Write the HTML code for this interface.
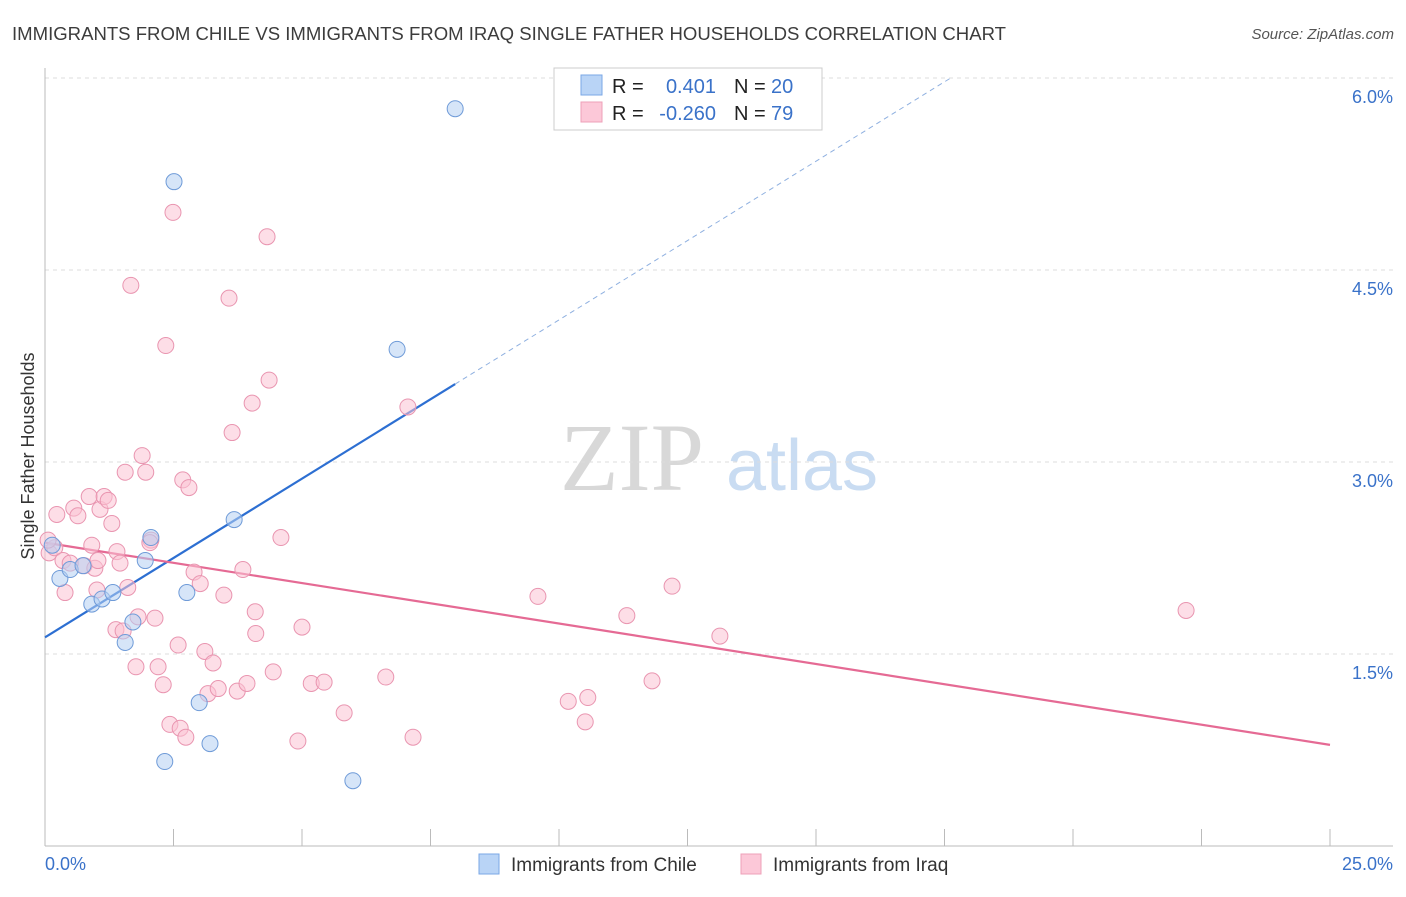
<!DOCTYPE html>
<html><head><meta charset="utf-8"><style>
body{margin:0;background:#fff;width:1406px;height:892px;overflow:hidden;font-family:"Liberation Sans",sans-serif}
</style></head><body>
<svg id="chart" width="1406" height="892" xmlns="http://www.w3.org/2000/svg" style="font-family:'Liberation Sans',sans-serif">
<text x="12" y="40" font-size="18" fill="#3c3c3c" textLength="994" lengthAdjust="spacingAndGlyphs">IMMIGRANTS FROM CHILE VS IMMIGRANTS FROM IRAQ SINGLE FATHER HOUSEHOLDS CORRELATION CHART</text>
<text x="1394" y="39" font-size="15" fill="#555" font-style="italic" text-anchor="end">Source: ZipAtlas.com</text>
<g>
<text x="632" y="490" font-size="96" fill="#d8d8d8" font-family="Liberation Serif,serif" text-anchor="middle">ZIP</text>
<text x="802" y="490" font-size="72" fill="#c9dcf2" text-anchor="middle">atlas</text>
</g>
<g id="grid"></g><g id="axes"></g><g id="lines"></g><g id="pts"></g>
<text transform="translate(34,456) rotate(-90)" font-size="18" fill="#333" text-anchor="middle">Single Father Households</text>
<g>
<rect x="554" y="68" width="268" height="62" fill="#fff" stroke="#ccc"/>
<rect x="581" y="75" width="21" height="20" fill="#b9d4f6" stroke="#7aa7e6"/>
<rect x="581" y="102" width="21" height="20" fill="#fcc8d8" stroke="#eea0b8"/>
<text x="612" y="93" font-size="20" fill="#222">R = </text><text x="716" y="93" font-size="20" fill="#3a72c9" text-anchor="end">0.401</text>
<text x="734" y="93" font-size="20" fill="#222">N = </text><text x="771" y="93" font-size="20" fill="#3a72c9">20</text>
<text x="612" y="120" font-size="20" fill="#222">R = </text><text x="716" y="120" font-size="20" fill="#3a72c9" text-anchor="end">-0.260</text>
<text x="734" y="120" font-size="20" fill="#222">N = </text><text x="771" y="120" font-size="20" fill="#3a72c9">79</text>
</g>
<g>
<rect x="479" y="854" width="20" height="20" fill="#b9d4f6" stroke="#7aa7e6"/>
<text x="511" y="871" font-size="19" fill="#333">Immigrants from Chile</text>
<rect x="741" y="854" width="20" height="20" fill="#fcc8d8" stroke="#eea0b8"/>
<text x="773" y="871" font-size="19" fill="#333">Immigrants from Iraq</text>
</g>
</svg>
<script>
const yTicks=[1.5,3.0,4.5,6.0];
const xTickLabels=["0.0%","25.0%"];
const chileX=[0.14,0.29,0.49,0.74,0.91,1.11,1.32,1.56,1.71,1.95,2.06,2.33,2.51,2.76,3.00,3.21,3.68,5.99,6.85,7.98];
const chileY=[2.35,2.09,2.16,2.19,1.89,1.93,1.98,1.59,1.75,2.23,2.41,0.66,5.19,1.98,1.12,0.80,2.55,0.51,3.88,5.76];
const iraqX=[0.08,0.19,0.23,0.35,0.39,0.56,0.64,0.76,0.86,0.91,0.97,1.03,1.07,1.15,1.23,1.30,1.40,1.38,1.52,1.56,1.61,1.67,1.77,1.81,1.89,1.96,2.06,2.14,2.20,2.30,2.35,2.43,2.49,2.59,2.63,2.68,2.74,2.80,2.90,3.02,3.11,3.17,3.27,3.37,3.48,3.58,3.64,3.74,3.85,3.93,4.03,4.09,4.10,4.32,4.36,4.44,4.59,4.92,5.00,5.18,5.43,5.82,6.63,7.06,7.16,9.59,10.18,10.51,10.56,11.32,11.81,12.20,13.13,22.20,0.06,1.01,2.04,1.46,0.49];
const iraqY=[2.29,2.33,2.59,2.23,1.98,2.64,2.58,2.19,2.73,2.35,2.17,2.23,2.63,2.73,2.70,2.52,2.30,1.69,1.68,2.92,2.02,4.38,1.40,1.79,3.05,2.92,2.39,1.78,1.40,1.26,3.91,0.95,4.95,1.57,0.92,2.86,0.85,2.80,2.14,2.05,1.52,1.19,1.43,1.23,1.96,4.28,3.23,1.21,2.16,1.27,3.46,1.83,1.66,4.76,3.64,1.36,2.41,0.82,1.71,1.27,1.28,1.04,1.32,3.43,0.85,1.95,1.13,0.97,1.16,1.80,1.29,2.03,1.64,1.84,2.39,2.00,2.37,2.21,2.21];
const chileTrend=[1.63,0.248];
const iraqTrend=[2.37,-0.0632];
const X0=45,X1=1330,Y0=846,PPY=128;
function sx(v){return X0+(X1-X0)*v/25;}
function sy(v){return Y0-v*PPY;}
const NS="http://www.w3.org/2000/svg";
function mk(parent,tag,attrs){const e=document.createElementNS(NS,tag);for(const k in attrs)e.setAttribute(k,attrs[k]);document.getElementById(parent).appendChild(e);return e;}
yTicks.forEach(t=>{
 const l=mk('grid','line',{x1:45,x2:1393,y1:sy(t),y2:sy(t),stroke:'#ddd','stroke-dasharray':'4,4'});
 
 
 const tx=mk('grid','text',{x:1393,y:sy(t)+25,'font-size':18,fill:'#3a72c9','text-anchor':'end'});
 tx.textContent=t.toFixed(1)+'%';
 
 
});
let a=mk('axes','line',{x1:45,x2:45,y1:68,y2:846,stroke:'#bbb'});


a=mk('axes','line',{x1:45,x2:1393,y1:846,y2:846,stroke:'#bbb'});


for(let i=0;i<=10;i++){const t=mk('axes','line',{x1:sx(i*2.5),x2:sx(i*2.5),y1:829,y2:846,stroke:'#bbb'});
 
 }
[[0,'start',45],[25,'end',1393]].forEach((d,i)=>{const t=mk('axes','text',{x:d[2],y:870,'font-size':18,fill:'#3a72c9','text-anchor':d[1]});t.textContent=xTickLabels[i];
 
 });
function pts(xs,ys,fill,stroke,name){xs.forEach((x,i)=>{const c=mk('pts','circle',{cx:sx(x),cy:sy(ys[i]),r:8,fill:fill,stroke:stroke,'stroke-width':1,'fill-opacity':0.55});
 
 });}
pts(iraqX,iraqY,'#fbc3d4','#e995b0','iraq-point');
pts(chileX,chileY,'#b5d0f3','#6f9bd8','chile-point');
const cmax=Math.max(...chileX);
let l=mk('lines','line',{x1:sx(0),y1:sy(chileTrend[0]),x2:sx(cmax),y2:sy(chileTrend[0]+chileTrend[1]*cmax),stroke:'#2d6fd2','stroke-width':2.2});


const xe=(6.0-chileTrend[0])/chileTrend[1];
l=mk('lines','line',{x1:sx(cmax),y1:sy(chileTrend[0]+chileTrend[1]*cmax),x2:sx(xe),y2:sy(6.0),stroke:'#8fb0e0','stroke-width':1,'stroke-dasharray':'5,4'});


l=mk('lines','line',{x1:sx(0),y1:sy(iraqTrend[0]),x2:sx(25),y2:sy(iraqTrend[0]+iraqTrend[1]*25),stroke:'#e56a94','stroke-width':2.2});


</script>
</body></html>
